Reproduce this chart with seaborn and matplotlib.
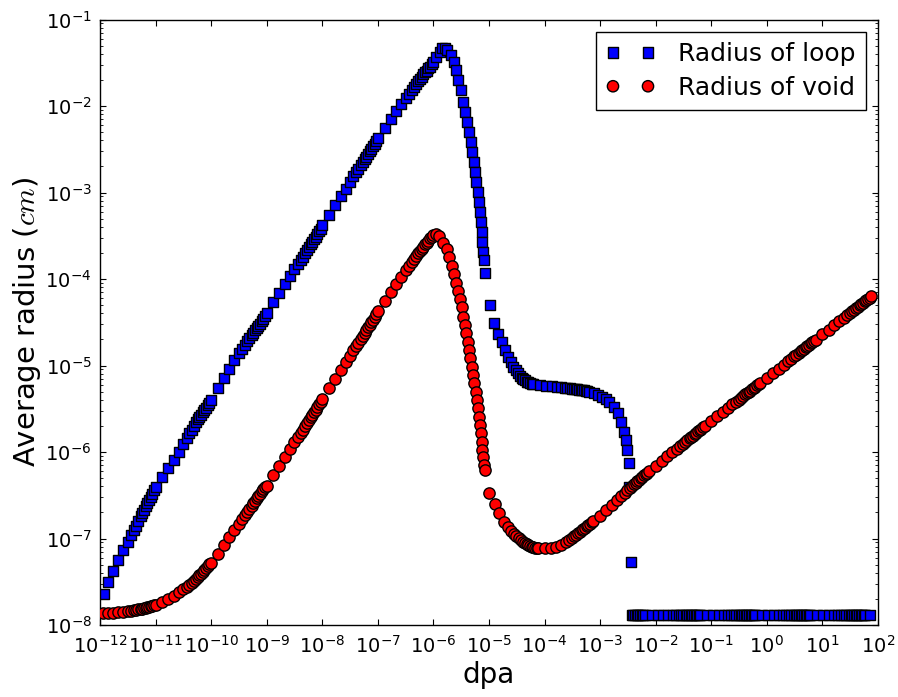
import numpy as np
import pandas as pd
import matplotlib
matplotlib.use("Agg")
import matplotlib.pyplot as plt
import seaborn as sns
from matplotlib.ticker import LogLocator, NullLocator

# ---------------- data (log10 of dpa and of radius in cm) ----------------
loop_log_dpa = [
    -11.92, -11.85, -11.77, -11.67, -11.58, -11.50, -11.44, -11.39, -11.35, -11.31, -11.27, -11.24, -11.21, -11.18, -11.15, -11.12, -11.09, -11.06, -11.03,
    -11.00, -10.88, -10.77, -10.67, -10.58, -10.50, -10.44, -10.39, -10.35, -10.31, -10.27, -10.24, -10.21, -10.18, -10.15, -10.12, -10.09, -10.06, -10.03,
    -10.00, -9.88, -9.77, -9.67, -9.58, -9.50, -9.44, -9.39, -9.35, -9.31, -9.27, -9.24, -9.21, -9.18, -9.15, -9.12, -9.09, -9.06, -9.03,
    -9.00, -8.88, -8.77, -8.67, -8.58, -8.50, -8.44, -8.39, -8.35, -8.31, -8.27, -8.24, -8.21, -8.18, -8.15, -8.12, -8.09, -8.06, -8.03,
    -8.00, -7.88, -7.77, -7.67, -7.58, -7.50, -7.44, -7.39, -7.35, -7.31, -7.27, -7.24, -7.21, -7.18, -7.15, -7.12, -7.09, -7.06, -7.03,
    -7.00, -6.88, -6.77, -6.67, -6.58, -6.50, -6.44, -6.39, -6.35, -6.31, -6.27, -6.24, -6.21, -6.18, -6.15, -6.12, -6.09, -6.06, -6.03,
    -6.00, -5.95, -5.89, -5.84, -5.79,
    -5.747, -5.686, -5.626, -5.585, -5.549, -5.506, -5.465, -5.429, -5.388, -5.357, -5.327, -5.298,
    -5.268, -5.250, -5.226, -5.201, -5.178, -5.160, -5.142, -5.129, -5.118, -5.100, -5.088, -5.075,
    -4.986, -4.909, -4.831, -4.770, -4.711, -4.652, -4.60, -4.56, -4.52, -4.48, -4.44, -4.41, -4.38, -4.35, -4.32, -4.29, -4.26, -4.23,
    -4.20, -4.08, -3.97, -3.87, -3.78, -3.70, -3.64, -3.59, -3.55, -3.51, -3.47, -3.44, -3.41, -3.38, -3.35, -3.32, -3.29, -3.26, -3.23,
    -3.20, -3.113, -3.04, -2.964, -2.90, -2.844, -2.754, -2.677, -2.616, -2.569, -2.533, -2.508, -2.485, -2.48, -2.449,
    -2.43, -2.40, -2.37, -2.34, -2.31, -2.28, -2.25, -2.22,
    -2.19, -2.07, -1.96, -1.86, -1.77, -1.69, -1.63, -1.58, -1.54, -1.50, -1.46, -1.43, -1.40, -1.37, -1.34, -1.31, -1.28, -1.25, -1.22,
    -1.20, -1.08, -0.97, -0.87, -0.78, -0.70, -0.64, -0.59, -0.55, -0.51, -0.47, -0.44, -0.41, -0.38, -0.35, -0.32, -0.29, -0.26, -0.23,
    -0.21, -0.09, 0.02, 0.12, 0.21, 0.29, 0.35, 0.40, 0.44, 0.48, 0.52, 0.55, 0.58, 0.61, 0.64, 0.67, 0.70, 0.73, 0.76,
    0.78, 0.90, 1.01, 1.11, 1.20, 1.28, 1.34, 1.39, 1.43, 1.47, 1.51, 1.54, 1.57, 1.60, 1.63, 1.66, 1.69, 1.72, 1.75,
    1.77, 1.86,
]
loop_log_radius = [
    -7.64, -7.50, -7.37, -7.245, -7.13, -7.035, -6.965, -6.905, -6.855, -6.80, -6.745, -6.705, -6.665, -6.625, -6.59, -6.55, -6.515, -6.48, -6.445,
    -6.41, -6.29, -6.185, -6.09, -6.00, -5.91, -5.84, -5.785, -5.74, -5.695, -5.65, -5.62, -5.595, -5.57, -5.54, -5.515, -5.49, -5.46, -5.43,
    -5.40, -5.265, -5.145, -5.035, -4.94, -4.86, -4.805, -4.76, -4.72, -4.68, -4.645, -4.62, -4.595, -4.57, -4.545, -4.52, -4.49, -4.46, -4.425,
    -4.39, -4.27, -4.16, -4.06, -3.97, -3.89, -3.83, -3.78, -3.74, -3.70, -3.66, -3.63, -3.60, -3.57, -3.54, -3.51, -3.48, -3.45, -3.42,
    -3.375, -3.255, -3.145, -3.045, -2.955, -2.875, -2.815, -2.765, -2.725, -2.685, -2.645, -2.615, -2.585, -2.555, -2.525, -2.495, -2.465, -2.435, -2.405,
    -2.375, -2.26, -2.155, -2.06, -1.98, -1.91, -1.86, -1.815, -1.78, -1.745, -1.71, -1.685, -1.66, -1.635, -1.61, -1.59, -1.565, -1.545, -1.52,
    -1.49, -1.43, -1.37, -1.335, -1.325,
    -1.353, -1.410, -1.488, -1.584, -1.699, -1.815, -1.950, -2.066, -2.182, -2.297, -2.413, -2.528,
    -2.644, -2.760, -2.875, -2.991, -3.106, -3.222, -3.338, -3.453, -3.569, -3.684, -3.780, -3.934,
    -4.301, -4.512, -4.639, -4.725, -4.821, -4.898, -4.965, -5.012, -5.055, -5.09, -5.12, -5.14, -5.157, -5.172, -5.185, -5.196, -5.205, -5.212,
    -5.215, -5.226, -5.234, -5.24, -5.246, -5.252, -5.257, -5.261, -5.264, -5.267, -5.27, -5.273, -5.276, -5.279, -5.282, -5.285, -5.289, -5.293, -5.298,
    -5.303, -5.321, -5.34, -5.361, -5.39, -5.419, -5.476, -5.553, -5.650, -5.765, -5.861, -5.977, -6.131, -6.405, -7.272,
    -7.884, -7.884, -7.884, -7.884, -7.884, -7.884, -7.884, -7.884,
    -7.884, -7.884, -7.884, -7.884, -7.884, -7.884, -7.884, -7.884, -7.884, -7.884, -7.884, -7.884, -7.884, -7.884, -7.884, -7.884, -7.884, -7.884, -7.884,
    -7.884, -7.884, -7.884, -7.884, -7.884, -7.884, -7.884, -7.884, -7.884, -7.884, -7.884, -7.884, -7.884, -7.884, -7.884, -7.884, -7.884, -7.884, -7.884,
    -7.884, -7.884, -7.884, -7.884, -7.884, -7.884, -7.884, -7.884, -7.884, -7.884, -7.884, -7.884, -7.884, -7.884, -7.884, -7.884, -7.884, -7.884, -7.884,
    -7.884, -7.884, -7.884, -7.884, -7.884, -7.884, -7.884, -7.884, -7.884, -7.884, -7.884, -7.884, -7.884, -7.884, -7.884, -7.884, -7.884, -7.884, -7.884,
    -7.884, -7.884,
]

void_log_dpa = [
    -11.94, -11.86, -11.77, -11.67, -11.58, -11.50, -11.44, -11.39, -11.35, -11.31, -11.27, -11.24, -11.21, -11.18, -11.15, -11.12, -11.09, -11.06, -11.03,
    -11.00, -10.88, -10.77, -10.67, -10.58, -10.50, -10.44, -10.39, -10.35, -10.31, -10.27, -10.24, -10.21, -10.18, -10.15, -10.12, -10.09, -10.06, -10.03,
    -10.00, -9.88, -9.77, -9.67, -9.58, -9.50, -9.44, -9.39, -9.35, -9.31, -9.27, -9.24, -9.21, -9.18, -9.15, -9.12, -9.09, -9.06, -9.03,
    -9.00, -8.88, -8.77, -8.67, -8.58, -8.50, -8.44, -8.39, -8.35, -8.31, -8.27, -8.24, -8.21, -8.18, -8.15, -8.12, -8.09, -8.06, -8.03,
    -8.00, -7.88, -7.77, -7.67, -7.58, -7.50, -7.44, -7.39, -7.35, -7.31, -7.27, -7.24, -7.21, -7.18, -7.15, -7.12, -7.09, -7.06, -7.03,
    -7.00, -6.88, -6.77, -6.67, -6.58, -6.50, -6.44, -6.39, -6.35, -6.31, -6.27, -6.24, -6.21, -6.18, -6.15, -6.12, -6.09, -6.06, -6.03,
    -6.00, -5.95,
    -5.896, -5.819, -5.758, -5.716, -5.668, -5.626, -5.585, -5.549, -5.519, -5.488, -5.460, -5.429,
    -5.406, -5.381, -5.357, -5.334, -5.309, -5.285, -5.262, -5.237, -5.219, -5.201, -5.183, -5.165,
    -5.147, -5.129, -5.118, -5.100, -5.083, -5.070,
    -4.998, -4.890, -4.819, -4.729, -4.65, -4.609, -4.55, -4.51, -4.46, -4.42, -4.38, -4.35, -4.32, -4.29, -4.26, -4.23, -4.20, -4.17, -4.14,
    -4.12, -4.00, -3.89, -3.79, -3.70, -3.62, -3.56, -3.51, -3.47, -3.43, -3.39, -3.36, -3.33, -3.30, -3.27, -3.24, -3.21, -3.18, -3.15,
    -3.12, -3.00, -2.89, -2.79, -2.70, -2.62, -2.56, -2.51, -2.47, -2.43, -2.39, -2.36, -2.33, -2.30, -2.27, -2.24, -2.21, -2.18, -2.15,
    -2.12, -2.00, -1.89, -1.79, -1.70, -1.62, -1.56, -1.51, -1.47, -1.43, -1.39, -1.36, -1.33, -1.30, -1.27, -1.24, -1.21, -1.18, -1.15,
    -1.12, -1.00, -0.89, -0.79, -0.70, -0.62, -0.56, -0.51, -0.47, -0.43, -0.39, -0.36, -0.33, -0.30, -0.27, -0.24, -0.21, -0.18, -0.15,
    -0.12, 0.00, 0.11, 0.21, 0.30, 0.38, 0.44, 0.49, 0.53, 0.57, 0.61, 0.64, 0.67, 0.70, 0.73, 0.76, 0.79, 0.82, 0.85,
    0.88, 1.00, 1.11, 1.21, 1.30, 1.38, 1.44, 1.49, 1.53, 1.57, 1.61, 1.64, 1.67, 1.70, 1.73, 1.76, 1.79, 1.82, 1.85, 1.88,
]
void_log_radius = [
    -7.865, -7.862, -7.857, -7.851, -7.845, -7.839, -7.833, -7.828, -7.824, -7.819, -7.814, -7.81, -7.806, -7.801, -7.796, -7.789, -7.784, -7.778, -7.772,
    -7.765, -7.733, -7.695, -7.660, -7.624, -7.588, -7.560, -7.535, -7.513, -7.490, -7.466, -7.445, -7.425, -7.405, -7.384, -7.363, -7.342, -7.321, -7.30,
    -7.283, -7.174, -7.074, -6.983, -6.901, -6.828, -6.774, -6.728, -6.692, -6.655, -6.619, -6.592, -6.564, -6.537, -6.510, -6.482, -6.455, -6.428, -6.401,
    -6.39, -6.27, -6.16, -6.06, -5.97, -5.89, -5.83, -5.78, -5.74, -5.70, -5.66, -5.63, -5.60, -5.57, -5.54, -5.51, -5.48, -5.45, -5.42,
    -5.385, -5.265, -5.155, -5.055, -4.965, -4.885, -4.825, -4.775, -4.735, -4.695, -4.655, -4.625, -4.595, -4.56, -4.53, -4.50, -4.47, -4.44, -4.41,
    -4.375, -4.26, -4.155, -4.06, -3.975, -3.90, -3.845, -3.80, -3.765, -3.73, -3.70, -3.675, -3.65, -3.625, -3.60, -3.58, -3.555, -3.53, -3.51,
    -3.495, -3.485,
    -3.505, -3.580, -3.657, -3.749, -3.850, -3.942, -4.043, -4.135, -4.235, -4.327, -4.436, -4.532,
    -4.628, -4.725, -4.821, -4.917, -5.014, -5.110, -5.206, -5.303, -5.399, -5.495, -5.592, -5.688,
    -5.784, -5.881, -5.977, -6.061, -6.150, -6.208,
    -6.471, -6.601, -6.702, -6.806, -6.87, -6.91, -6.95, -6.975, -6.998, -7.02, -7.04, -7.053, -7.065, -7.076, -7.085, -7.093, -7.10, -7.105, -7.109,
    -7.11, -7.113, -7.108, -7.093, -7.07, -7.045, -7.02, -6.995, -6.975, -6.955, -6.935, -6.92, -6.905, -6.89, -6.875, -6.86, -6.845, -6.83, -6.815,
    -6.80, -6.74, -6.675, -6.615, -6.56, -6.51, -6.475, -6.445, -6.42, -6.395, -6.375, -6.355, -6.34, -6.32, -6.305, -6.29, -6.27, -6.255, -6.24,
    -6.22, -6.158, -6.100, -6.048, -6.002, -5.960, -5.929, -5.903, -5.882, -5.862, -5.841, -5.825, -5.810, -5.794, -5.778, -5.763, -5.747, -5.732, -5.716,
    -5.70, -5.64, -5.585, -5.535, -5.49, -5.45, -5.42, -5.395, -5.375, -5.355, -5.335, -5.32, -5.305, -5.29, -5.275, -5.26, -5.245, -5.23, -5.215,
    -5.20, -5.14, -5.085, -5.035, -4.99, -4.95, -4.92, -4.895, -4.875, -4.855, -4.835, -4.82, -4.805, -4.79, -4.775, -4.76, -4.745, -4.73, -4.715,
    -4.70, -4.64, -4.585, -4.535, -4.49, -4.45, -4.42, -4.395, -4.375, -4.355, -4.335, -4.32, -4.305, -4.29, -4.275, -4.26, -4.245, -4.23, -4.215, -4.20,
]

series_labels = ["Radius of loop", "Radius of void"]
x_label = "dpa"
y_label = "Average radius ($cm$)"

# ---------------- style ----------------
sns.set_style("ticks", {
    "axes.edgecolor": "black", "text.color": "black", "axes.labelcolor": "black",
    "xtick.color": "black", "ytick.color": "black",
    "xtick.direction": "in", "ytick.direction": "in",
})
plt.rcParams["font.family"] = ["DejaVu Sans"]
plt.rcParams["mathtext.fontset"] = "dejavusans"

loop_df = pd.DataFrame({"dpa": np.power(10.0, loop_log_dpa), "radius": np.power(10.0, loop_log_radius)})
void_df = pd.DataFrame({"dpa": np.power(10.0, void_log_dpa), "radius": np.power(10.0, void_log_radius)})

fig = plt.figure(figsize=(8.98, 6.97), dpi=100)
ax = fig.add_axes([100 / 898, 72 / 697, 778 / 898, 605.5 / 697])

sns.scatterplot(data=loop_df, x="dpa", y="radius", marker="s", color="#0000ff",
                edgecolor="black", linewidth=1.0, s=60, ax=ax, label=series_labels[0], zorder=2)
sns.scatterplot(data=void_df, x="dpa", y="radius", marker="o", color="#ff0000",
                edgecolor="black", linewidth=1.0, s=66, ax=ax, label=series_labels[1], zorder=3)

ax.set_xscale("log")
ax.set_yscale("log")
ax.set_xlim(1e-12, 1e2)
ax.set_ylim(1e-8, 1e-1)

ax.xaxis.set_major_locator(LogLocator(base=10, numticks=30))
ax.xaxis.set_minor_locator(NullLocator())
ax.yaxis.set_major_locator(LogLocator(base=10, numticks=30))
ax.yaxis.set_minor_locator(LogLocator(base=10, subs=np.arange(2, 10), numticks=30))

ax.tick_params(which="both", direction="in", top=True, right=True, colors="black")
ax.tick_params(which="major", length=4, width=0.8, labelsize=14)
ax.tick_params(axis="x", which="major", pad=7)
ax.tick_params(axis="y", which="major", pad=6)
ax.tick_params(which="minor", length=2, width=0.6)
for sp in ax.spines.values():
    sp.set_visible(True)
    sp.set_color("black")
    sp.set_linewidth(1.0)

ax.set_xlabel(x_label, fontsize=20, labelpad=3)
ax.set_ylabel(y_label, fontsize=21, labelpad=2, math_fontfamily="cm")

leg = ax.legend(loc="upper right", scatterpoints=2, scatteryoffsets=[0.5], fontsize=18,
                frameon=True, fancybox=False, shadow=False, edgecolor="black", framealpha=1,
                borderpad=0.4, labelspacing=0.4, handlelength=2.0, handletextpad=0.9,
                borderaxespad=0.5)
leg.get_frame().set_linewidth(1.0)

fig.savefig("out.png", dpi=100)
